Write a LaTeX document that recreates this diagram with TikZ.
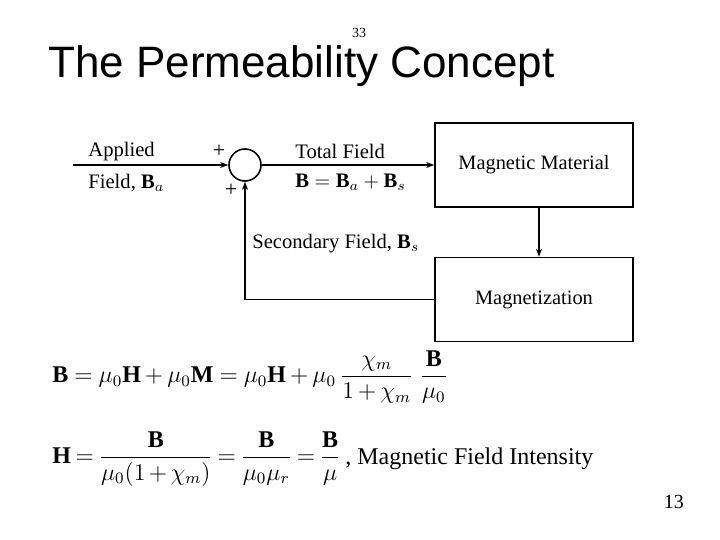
\documentclass[tikz,border=0pt]{standalone}
\usepackage{amsmath, amssymb}
\usepackage{fontspec}
\setmainfont{Liberation Serif}
\newfontfamily\titlefont{Liberation Sans}
\usetikzlibrary{calc, arrows.meta}
\newcommand\eqtight{\thickmuskip=3.5mu\relax\medmuskip=2.5mu\relax}
\newcommand\eqloose{\thickmuskip=4.5mu\relax\medmuskip=3mu\relax}

\begin{document}
\begin{tikzpicture}[x=0.5pt, y=-0.5pt, >={Stealth[length=4pt, width=3pt]},
    blk/.style={draw, thick, minimum width=99pt, minimum height=42pt, font=\fontsize{10.2}{12}\selectfont},
    lbl/.style={anchor=west, inner sep=0pt, font=\fontsize{10.3}{12}\selectfont},
    eqn/.style={anchor=west, inner sep=0pt, font=\fontsize{12}{14}\selectfont}]
            \useasboundingbox (0,0) rectangle (720,540);
            % title and page numbers
            \node[anchor=base west, inner sep=0pt, font=\titlefont\fontsize{22}{26}\selectfont] (title) at (48,78) {The Permeability Concept};
            \node[font=\fontsize{7}{8}\selectfont] (pgtop) at (359,33) {33};
            \node[font=\fontsize{10}{12}\selectfont] (pgno) at (674,502) {13};
            % block diagram
            \node[blk] (mat) at (534,165) {Magnetic Material};
            \node[blk] (mag) at (534,299.5) {Magnetization};
            \node[circle, draw, thick, minimum size=16pt, inner sep=0pt] (sum) at (245,165) {};
            \coordinate (in) at (73,165);
            \draw[thick, ->] (in) -- (sum.west);
            \draw[thick, ->] (sum.east) -- (mat.west);
            \draw[thick, ->] ([xshift=2.5pt]mat.south) -- ([xshift=2.5pt]mat.south |- mag.north);
            \draw[thick, ->] (mag.west) -- (mag.west -| sum) -- (sum.south);
            \node[font=\fontsize{11}{12}\selectfont] (plusa) at (219,151) {+};
            \node[font=\fontsize{11}{12}\selectfont] (plusb) at (231,190) {+};
            \node[lbl] (appl) at (88,152) {Applied};
            \node[lbl] (fld) at (88,183) {Field, $\mathbf{B}_a$};
            \node[lbl] (tot) at (295,151) {Total Field};
            \node[lbl] (sumeq) at (295,182) {$\mathbf{B}=\mathbf{B}_a+\mathbf{B}_s$};
            \node[lbl] (sec) at (252,244) {Secondary Field, $\mathbf{B}_s$};
            % equations
            \node[eqn] (eqB) at (52,377) {$\eqloose\displaystyle \mathbf{B}=\mu_0\mathbf{H}+\mu_0\mathbf{M}=\mu_0\mathbf{H}+\mu_0\,\frac{\chi_m}{1+\chi_m}\;\frac{\mathbf{B}}{\mu_0}$};
            \node[eqn] (eqH) at (52,459) {$\eqtight\displaystyle \mathbf{H}=\frac{\mathbf{B}}{\mu_0(1+\chi_m)}=\frac{\mathbf{B}}{\mu_0\mu_r}=\frac{\mathbf{B}}{\mu}$};
            \node[anchor=west, inner sep=0pt, font=\fontsize{12}{14}\selectfont] (intens) at ([xshift=2pt]eqH.east) {, Magnetic Field Intensity};
        \end{tikzpicture}
\end{document}
